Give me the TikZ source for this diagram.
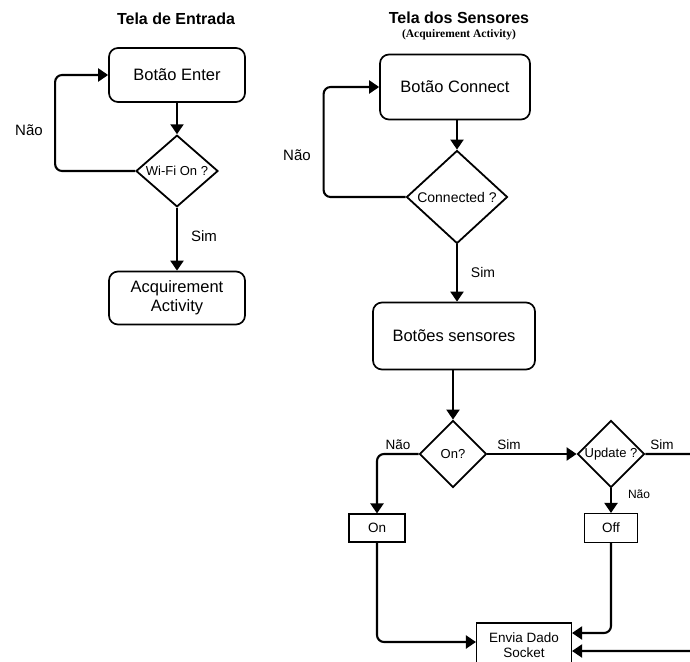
\documentclass[tikz,border=0pt]{standalone}
\usepackage{fontspec}
\setmainfont{Liberation Sans}
\newfontfamily\subtitlefont{Liberation Serif}
\usepackage{tikz}
\usetikzlibrary{arrows.meta,positioning,shapes.geometric}

\begin{document}
\begin{tikzpicture}[x=1pt,y=-1pt,
  title/.style={font=\fontsize{16}{19}\selectfont\bfseries,inner sep=0pt},
  bigbox/.style={draw,rounded corners=9pt,line width=1.7pt,
              font=\fontsize{16.5}{19}\selectfont,inner sep=2pt,align=center},
  smallbox/.style={draw,line width=1.1pt,inner sep=1pt,align=center,
              font=\fontsize{13.5}{15}\selectfont},
  decision/.style={draw,diamond,line width=1.8pt,inner sep=0pt,align=center},
  flow/.style={line width=2.1pt,rounded corners=7pt,
              -{Triangle[length=10pt,width=13pt]}},
  lbl/.style={font=\fontsize{15}{17}\selectfont,inner sep=0pt},
  lblsmall/.style={font=\fontsize{13.5}{15}\selectfont,inner sep=0pt},
]
  \useasboundingbox (0,0) rectangle (690,661);
  \clip (0,0) rectangle (690,661);

  %% Tela de Entrada
  \node[title] (titleA) at (176,19) {Tela de Entrada};
  \node[bigbox,minimum width=136pt,minimum height=54pt] (enter) at (177,75) {Botão Enter};
  \node[decision,minimum width=82pt,minimum height=66pt,
        font=\fontsize{13}{15}\selectfont] (wifi) at (177,171) {Wi-Fi On ?};
  \node[bigbox,minimum width=136pt,minimum height=53pt] (acq) at (177,298) {Acquirement\\Activity};

  \draw[flow] (enter) -- (wifi);
  \draw[flow] (wifi.west) -- ++(-80,0) |- (enter.west);
  \draw[flow] (wifi) -- (acq);
  \node[lbl] (naoA) at (29,130) {Não};
  \node[lbl] (simA) at (204,236) {Sim};

  %% Tela dos Sensores
  \node[title] (titleB) at (459,18) {Tela dos Sensores};
  \node[font=\subtitlefont\bfseries\fontsize{11.5}{13}\selectfont,inner sep=0pt]
        (titleBsub) at (459,35) {(Acquirement Activity)};
  \node[bigbox,minimum width=150pt,minimum height=65pt] (connect) at (455,87) {Botão Connect};
  \node[decision,minimum width=101pt,minimum height=93pt,
        font=\fontsize{14}{16}\selectfont] (conn) at (457,197) {Connected ?};
  \node[bigbox,minimum width=162pt,minimum height=67pt] (sens) at (454,336) {Botões sensores};

  \draw[flow] (connect.south -| conn.north) -- (conn.north);
  \draw[flow] (conn.west) -- ++(-82,0) |- (connect.west);
  \draw[flow] (conn.south) -- (sens.north -| conn.south);
  \node[lbl] (naoB) at (297,155) {Não};
  \node[lblsmall,font=\fontsize{14}{16}\selectfont] (simB) at (483,272) {Sim};

  %% sensores
  \node[decision,minimum width=67pt,minimum height=67pt,
        font=\fontsize{13}{15}\selectfont] (on) at (453,454) {On?};
  \node[decision,minimum width=67pt,minimum height=67pt,
        font=\fontsize{13}{15}\selectfont] (upd) at (611,454) {Update ?};
  \node[smallbox,minimum width=56pt,minimum height=28pt] (onbox) at (377,528) {On};
  \node[smallbox,minimum width=53pt,minimum height=29pt] (offbox) at (611,528) {Off};
  \node[smallbox,minimum width=95pt,minimum height=44pt] (sock) at (524,645) {Envia Dado\\Socket};
  \coordinate (outright) at (720,454);

  \draw[flow] (sens.south -| on.north) -- (on.north);
  \draw[flow] (on.west) -| (onbox.north);
  \draw[flow] (on.east) -- (upd.west);
  \draw[flow] (upd.south) -- (offbox.north);
  \draw[flow] (onbox.south) |- ([yshift=3pt]sock.west);
  \draw[flow] (offbox.south) |- ([yshift=12pt]sock.east);
  \draw[flow] (upd.east) -- (outright) |- ([yshift=-6pt]sock.east);

  \node[lblsmall] (naoC) at (398,445) {Não};
  \node[lblsmall] (simC) at (509,445) {Sim};
  \node[lblsmall] (simD) at (662,445) {Sim};
  \node[lblsmall,font=\fontsize{12}{14}\selectfont] (naoD) at (639,494) {Não};

\end{tikzpicture}
\end{document}
